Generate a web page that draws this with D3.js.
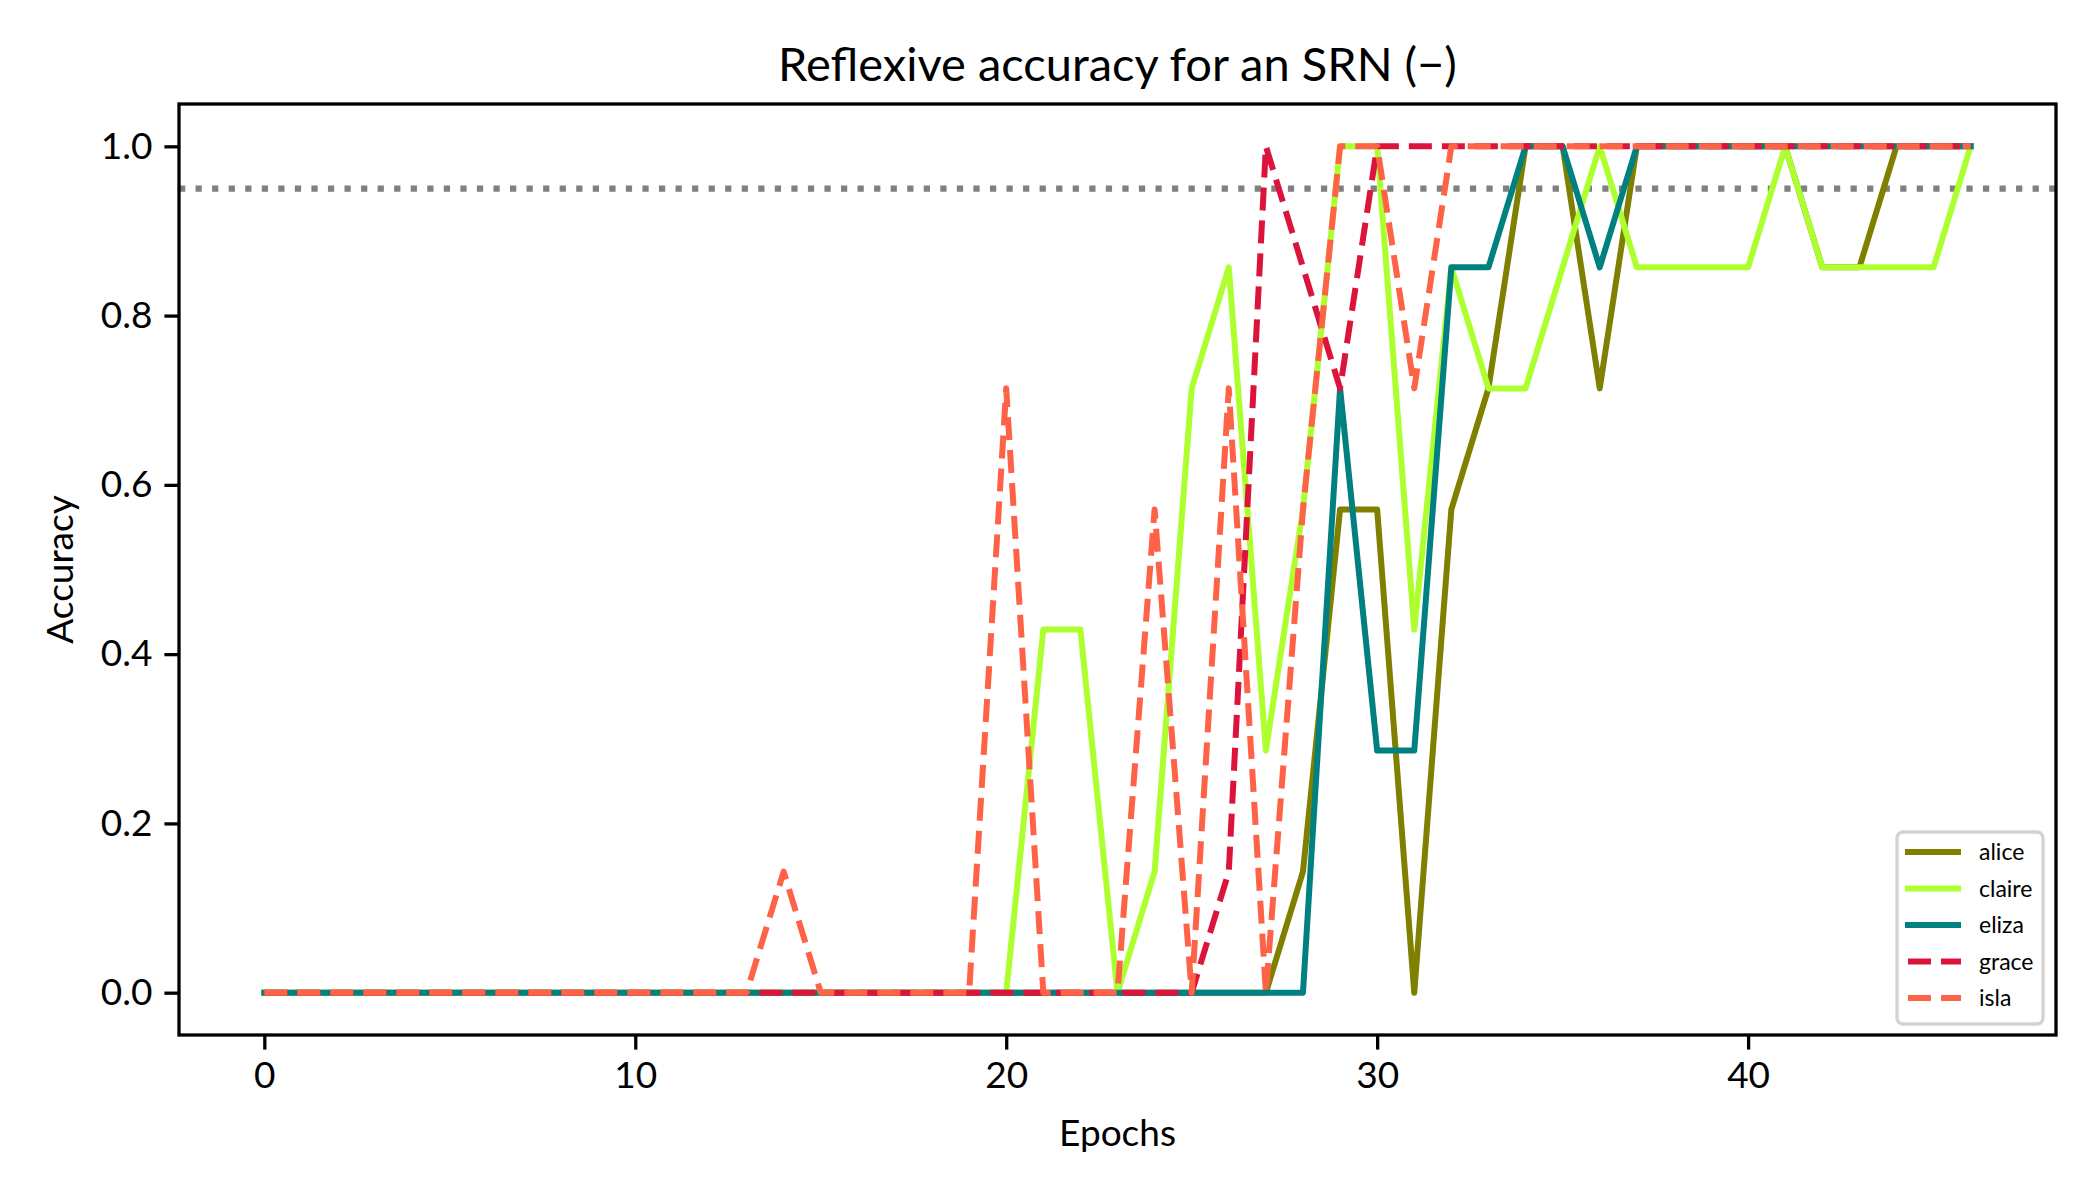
<!DOCTYPE html>
<html>
<head>
<meta charset="utf-8">
<script src="https://cdn.jsdelivr.net/npm/d3@7/dist/d3.min.js"></script>
<style>
body { margin: 0; background: #fff; }
text { font-family: Lato, 'Open Sans', sans-serif; fill: #000; }
</style>
</head>
<body>
<svg id="chart" width="2100" height="1200"></svg>
<script>
/* accuracy per epoch */

var epochs = [0,1,2,3,4,5,6,7,8,9,10,11,12,13,14,15,16,17,18,19,20,21,22,23,24,25,26,27,28,29,30,31,32,33,34,35,36,37,38,39,40,41,42,43,44,45,46]

var alice  = [0,0,0,0,0,0,0,0,0,0,0,0,0,0,0,0,0,0,0,0,0,0,0,0,0,0,0,0,
              0.143,0.571,0.571,0,0.571,0.714,1,1,0.714,1,1,1,1,1,0.857,0.857,1,1,1]
var claire = [0,0,0,0,0,0,0,0,0,0,0,0,0,0,0,0,0,0,0,0,0,
              0.429,0.429,0,0.143,0.714,0.857,0.286,0.571,1,1,0.429,0.857,0.714,0.714,0.857,1,
              0.857,0.857,0.857,0.857,1,0.857,0.857,0.857,0.857,1]
var eliza  = [0,0,0,0,0,0,0,0,0,0,0,0,0,0,0,0,0,0,0,0,0,0,0,0,0,0,0,0,0,
              0.714,0.286,0.286,0.857,0.857,1,1,0.857,1,1,1,1,1,1,1,1,1,1]
var grace  = [0,0,0,0,0,0,0,0,0,0,0,0,0,0,0,0,0,0,0,0,0,0,0,0,0,0,
              0.143,1,0.857,0.714,1,1,1,1,1,1,1,1,1,1,1,1,1,1,1,1,1]
var isla   = [0,0,0,0,0,0,0,0,0,0,0,0,0,0,
              0.143,0,0,0,0,0,0.714,0,0,0,0.571,0,0.714,0,0.571,1,1,0.714,
              1,1,1,1,1,1,1,1,1,1,1,1,1,1,1]

var seriesNames = ['alice', 'claire', 'eliza', 'grace', 'isla']
var seriesValues = [alice, claire, eliza, grace, isla]
var seriesColors = ['#808000', '#adff2f', '#008080', '#dc143c', '#ff6347']
var seriesDashed = [false, false, false, true, true]

var xTicks = [0, 10, 20, 30, 40]
var yTicks = [0, 0.2, 0.4, 0.6, 0.8, 1.0]
var threshold = 0.95

var titleText = 'Reflexive accuracy for an SRN (\u2212)'
var xLabel = 'Epochs'
var yLabel = 'Accuracy'

// layout (plot box)
var boxL = 179, boxR = 2056, boxT = 104, boxB = 1035
var svg = d3.select('#chart')

var x = d3.scaleLinear().domain([-2.3, 48.3]).range([boxL, boxR])
var y = d3.scaleLinear().domain([-0.05, 1.05]).range([boxB, boxT])

// threshold line
svg.append('line')
    .attr('x1', boxL).attr('x2', boxR)
    .attr('y1', y(threshold)).attr('y2', y(threshold))
    .attr('stroke', '#808080')
    .attr('stroke-width', 6.25)
    .attr('stroke-dasharray', '6.25,10.3')

// lines
var line = d3.line()
    .x(function(d, i){ return x(epochs[i]) })
    .y(function(d){ return y(d) })
    .curve(d3.curveLinear)

for(i=0; i<seriesNames.length; i++){
    svg.append('path')
        .datum(seriesValues[i])
        .attr('d', line)
        .attr('fill', 'none')
        .attr('stroke', seriesColors[i])
        .attr('stroke-width', 6)
        .attr('stroke-linejoin', 'round')
        .attr('stroke-linecap', seriesDashed[i] ? 'butt' : 'square')
        .attr('stroke-dasharray', seriesDashed[i] ? '23,10' : null)
}

// axes
var xAxis = d3.axisBottom(x).tickValues(xTicks).tickSize(14.6).tickPadding(12)
var yAxis = d3.axisLeft(y).tickValues(yTicks).tickSize(14.6).tickPadding(12).tickFormat(d3.format('.1f'))

var gx = svg.append('g').attr('transform', 'translate(0,' + boxB + ')').call(xAxis)
var gy = svg.append('g').attr('transform', 'translate(' + boxL + ',0)').call(yAxis)
;[gx, gy].forEach(function(g){
    g.select('.domain').remove()
    g.selectAll('.tick line').attr('stroke', '#000').attr('stroke-width', 3.3)
    g.selectAll('.tick text').attr('font-size', 37).attr('fill', '#000')
        .style('font-family', 'Lato, sans-serif')
})

// frame
svg.append('rect')
    .attr('x', boxL).attr('y', boxT)
    .attr('width', boxR - boxL).attr('height', boxB - boxT)
    .attr('fill', 'none').attr('stroke', '#000').attr('stroke-width', 3.3)

// labels
svg.append('text')
    .attr('x', (boxL + boxR) / 2).attr('y', 81)
    .attr('text-anchor', 'middle')
    .attr('font-size', 47)
    .text(titleText)

svg.append('text')
    .attr('x', (boxL + boxR) / 2).attr('y', 1146)
    .attr('text-anchor', 'middle')
    .attr('font-size', 37)
    .text(xLabel)

svg.append('text')
    .attr('transform', 'translate(73,' + ((boxT + boxB) / 2) + ') rotate(-90)')
    .attr('text-anchor', 'middle')
    .attr('font-size', 37)
    .text(yLabel)

// legend
var legend = svg.append('g')
legend.append('rect')
    .attr('x', 1897).attr('y', 832)
    .attr('width', 146).attr('height', 192)
    .attr('rx', 6)
    .attr('fill', '#fff').attr('fill-opacity', 0.8)
    .attr('stroke', '#d3d3d3').attr('stroke-width', 3.3)

for(i=0; i<seriesNames.length; i++){
    var ly = 852 + i * 36.5
    legend.append('line')
        .attr('x1', seriesDashed[i] ? 1908 : 1905).attr('x2', 1961)
        .attr('y1', ly).attr('y2', ly)
        .attr('stroke', seriesColors[i])
        .attr('stroke-width', 6)
        .attr('stroke-dasharray', seriesDashed[i] ? '23,10' : null)
    legend.append('text')
        .attr('x', 1979).attr('y', ly + 8)
        .attr('font-size', 23)
        .text(seriesNames[i])
}
</script>
</body>
</html>
